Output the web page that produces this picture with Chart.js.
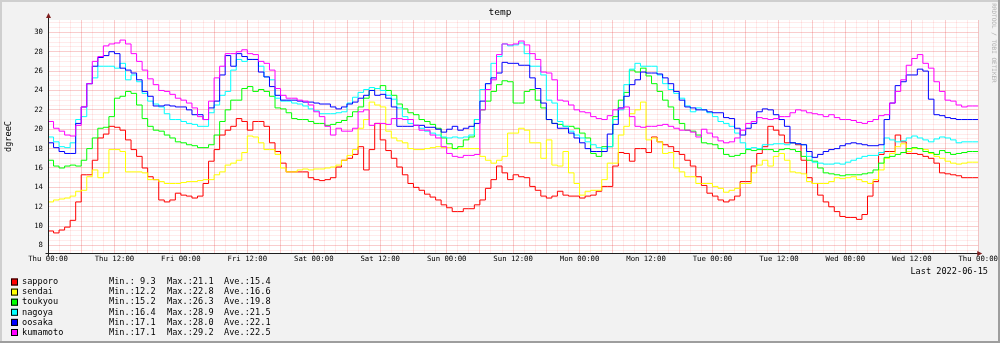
<!DOCTYPE html>
<html>
<head>
<meta charset="utf-8">
<script src="https://cdn.jsdelivr.net/npm/chart.js@4/dist/chart.umd.min.js"></script>
<style>
  html, body { margin: 0; padding: 0; background: #f2f2f2; }
  canvas { display: block; }
</style>
</head>
<body>
<canvas id="chTemp" width="1000" height="343"></canvas>
<script>
// hourly temperatures, Thu 00:00 .. Wed 23:00
var stations = ['sapporo', 'sendai', 'toukyou', 'nagoya', 'oosaka', 'kumamoto'];
var colors = ['#ff0000', '#ffff00', '#00ff00', '#00ffff', '#0000ff', '#ff00ff'];
var dayNames = ['Thu', 'Fri', 'Sat', 'Sun', 'Mon', 'Tue', 'Wed', 'Thu'];
var minVals = ['9.3', '12.2', '15.2', '16.4', '17.1', '17.1'];
var maxVals = ['21.1', '22.8', '26.3', '28.9', '28.0', '29.2'];
var aveVals = ['15.4', '16.6', '19.8', '21.5', '22.1', '22.5'];

var sapporo = [
  9.6, 9.5, 9.3, 9.6, 9.9, 10.6, 12.5, 15.3, 15.3, 16.8, 19.1, 19.5, 20.3, 20.2, 19.9, 18.9, 17.9, 17.2, 16.0, 15.1, 14.8, 12.7, 12.5, 12.7,
  13.4, 13.2, 13.1, 12.9, 13.1, 14.4, 16.7, 17.9, 19.4, 19.9, 20.3, 21.1, 20.8, 19.9, 20.8, 20.8, 20.3, 18.6, 17.7, 16.5, 15.6, 15.6, 15.6, 15.6,
  15.0, 14.8, 14.7, 14.8, 15.0, 16.1, 16.8, 17.0, 17.4, 18.2, 15.8, 17.9, 20.6, 18.9, 17.8, 17.0, 16.1, 15.3, 14.4, 14.0, 13.7, 13.3, 13.0, 12.7,
  12.2, 11.9, 11.5, 11.5, 11.8, 11.8, 12.2, 12.7, 13.9, 14.8, 16.2, 15.5, 14.8, 15.3, 15.1, 15.0, 14.1, 13.7, 13.1, 12.9, 13.1, 13.6, 13.2, 13.1,
  13.1, 12.9, 13.1, 13.2, 13.6, 14.1, 14.1, 16.2, 17.6, 17.5, 16.7, 18.0, 18.0, 17.6, 19.2, 18.7, 18.4, 18.2, 17.7, 17.4, 16.8, 16.2, 15.1, 14.2,
  13.4, 13.1, 12.7, 12.5, 12.7, 13.1, 14.6, 14.6, 16.2, 17.5, 18.2, 20.3, 19.9, 19.4, 18.6, 18.6, 18.4, 16.8, 15.0, 14.4, 13.2, 12.5, 12.0, 11.5,
  11.0, 10.9, 10.9, 10.7, 11.2, 13.1, 14.6, 17.4, 17.7, 17.7, 19.4, 18.7, 17.5, 17.5, 17.4, 17.2, 17.0, 16.5, 15.5, 15.4, 15.3, 15.2, 15.0, 15.0
];
var sendai = [
  12.3, 12.5, 12.7, 12.8, 12.9, 13.1, 13.6, 13.7, 15.1, 15.8, 15.0, 15.5, 17.9, 17.9, 17.7, 15.6, 15.6, 15.6, 15.5, 14.8, 14.8, 14.6, 14.4, 14.4,
  14.4, 14.5, 14.6, 14.6, 14.7, 14.8, 14.8, 15.3, 15.6, 16.3, 16.5, 16.8, 17.6, 19.3, 19.2, 18.6, 17.9, 17.9, 17.4, 16.0, 15.6, 15.6, 15.8, 15.9,
  15.8, 15.9, 15.9, 16.0, 16.1, 16.3, 16.8, 17.3, 17.9, 20.1, 21.0, 22.8, 22.5, 22.3, 19.8, 19.1, 18.8, 18.6, 18.0, 17.9, 17.9, 18.0, 18.1, 18.2,
  18.1, 18.1, 18.0, 18.0, 18.0, 18.0, 18.0, 17.2, 16.8, 16.5, 16.8, 17.2, 19.6, 19.6, 20.1, 19.9, 18.6, 18.6, 17.0, 18.9, 16.3, 16.2, 17.7, 15.5,
  14.4, 13.2, 13.6, 13.7, 13.7, 14.8, 16.5, 16.5, 19.4, 20.3, 21.6, 22.0, 22.8, 18.9, 19.1, 18.7, 17.5, 17.6, 16.0, 15.6, 15.1, 15.1, 14.4, 14.4,
  14.4, 14.1, 13.9, 13.5, 13.7, 13.9, 14.4, 14.4, 15.5, 16.3, 16.8, 16.2, 17.2, 17.5, 16.8, 15.6, 15.5, 15.4, 14.6, 14.4, 14.4, 14.4, 14.6, 15.0,
  14.9, 15.0, 15.1, 14.8, 14.6, 14.4, 14.8, 15.8, 17.0, 17.5, 18.2, 18.5, 17.7, 18.0, 18.0, 17.9, 17.5, 17.2, 17.0, 16.7, 16.5, 16.4, 16.5, 16.6
];
var toukyou = [
  16.8, 16.8, 16.2, 16.0, 16.2, 16.3, 16.2, 16.8, 18.0, 19.1, 20.1, 20.2, 21.3, 23.2, 23.4, 23.9, 23.7, 22.5, 21.1, 20.3, 19.9, 19.8, 19.4, 19.1,
  18.7, 18.6, 18.4, 18.3, 18.1, 18.1, 18.4, 19.4, 20.8, 22.0, 23.0, 23.0, 24.2, 24.4, 23.9, 24.1, 23.9, 23.4, 22.2, 22.1, 21.7, 21.1, 21.0, 21.0,
  20.8, 20.6, 20.6, 20.4, 20.5, 20.7, 20.9, 21.3, 21.8, 22.3, 23.2, 24.0, 24.2, 24.5, 24.0, 23.5, 22.6, 22.1, 21.7, 21.5, 21.0, 20.8, 20.5, 20.1,
  19.1, 18.5, 18.0, 18.2, 18.9, 19.2, 21.0, 22.0, 22.9, 23.9, 24.6, 25.0, 24.9, 22.7, 22.7, 23.9, 24.1, 23.0, 22.2, 21.0, 20.6, 20.5, 20.3, 20.3,
  20.1, 19.6, 19.1, 17.5, 17.2, 18.2, 18.2, 21.3, 23.0, 23.8, 26.1, 25.9, 26.3, 25.5, 24.7, 23.9, 23.0, 22.3, 21.0, 20.6, 19.9, 19.8, 19.4, 18.6,
  18.5, 18.4, 18.0, 17.4, 17.2, 17.3, 17.5, 17.9, 17.8, 17.9, 17.9, 17.9, 17.7, 17.9, 18.0, 17.9, 17.7, 17.2, 16.8, 16.7, 16.0, 15.5, 15.4, 15.3,
  15.2, 15.3, 15.3, 15.3, 15.4, 15.5, 15.8, 16.5, 17.1, 17.2, 17.4, 17.6, 18.0, 18.1, 18.0, 17.7, 17.6, 17.4, 17.8, 17.6, 17.4, 17.5, 17.6, 17.7
];
var nagoya = [
  19.8, 19.2, 18.7, 18.2, 18.1, 18.6, 21.0, 21.3, 24.7, 25.3, 26.5, 26.5, 26.5, 26.3, 26.8, 25.1, 25.6, 24.9, 23.7, 22.9, 22.6, 22.3, 21.6, 21.0,
  21.0, 20.8, 20.6, 20.5, 20.3, 20.3, 21.7, 22.5, 23.5, 23.9, 26.1, 27.2, 27.0, 27.2, 27.2, 26.5, 25.4, 25.1, 23.2, 22.9, 22.9, 22.7, 22.6, 22.4,
  22.1, 21.9, 21.6, 21.6, 21.6, 21.7, 21.8, 22.7, 23.3, 23.8, 24.1, 24.3, 24.2, 24.0, 23.5, 23.1, 22.2, 21.3, 20.6, 20.4, 20.1, 19.8, 19.6, 19.4,
  19.2, 19.1, 19.2, 19.1, 19.2, 19.4, 21.0, 24.1, 24.7, 26.8, 27.5, 28.8, 28.6, 28.7, 28.9, 27.8, 26.5, 26.5, 25.6, 23.0, 22.7, 20.8, 20.3, 19.8,
  19.4, 19.1, 18.7, 18.4, 18.1, 18.0, 18.2, 21.0, 22.0, 24.6, 26.2, 26.8, 26.5, 26.5, 26.5, 25.6, 24.7, 24.1, 23.7, 23.2, 22.4, 21.8, 22.2, 22.0,
  21.7, 21.3, 20.8, 20.6, 20.3, 19.6, 18.6, 18.0, 18.1, 18.0, 18.4, 18.4, 18.5, 18.5, 18.4, 18.6, 18.5, 18.4, 17.2, 16.6, 16.5, 16.4, 16.4, 16.5,
  16.4, 16.6, 16.8, 17.0, 17.2, 17.3, 17.3, 17.6, 19.1, 18.9, 18.7, 18.8, 19.1, 19.3, 19.1, 18.9, 18.7, 19.0, 19.2, 19.1, 18.9, 18.6, 18.7, 18.7
];
var oosaka = [
  19.1, 18.6, 18.1, 17.7, 17.5, 17.5, 20.6, 22.3, 24.7, 26.5, 27.4, 27.6, 28.0, 27.8, 26.3, 26.1, 25.8, 25.1, 23.9, 23.4, 22.4, 22.4, 22.5, 22.4,
  22.3, 22.3, 22.0, 21.5, 21.5, 21.0, 22.2, 22.9, 25.6, 27.6, 26.5, 27.8, 27.5, 27.2, 27.2, 25.9, 25.4, 24.4, 23.5, 23.0, 23.0, 23.0, 22.9, 22.8,
  22.8, 22.7, 22.6, 22.6, 22.3, 22.1, 22.3, 22.6, 22.8, 23.2, 23.5, 24.0, 23.5, 23.6, 23.2, 22.3, 20.3, 20.3, 20.3, 20.4, 20.4, 20.2, 20.2, 20.0,
  19.7, 20.0, 20.3, 19.9, 20.1, 20.3, 20.6, 22.9, 24.7, 25.3, 25.8, 26.9, 26.8, 26.8, 26.6, 26.6, 25.3, 24.2, 22.7, 21.0, 20.6, 20.1, 20.1, 19.6,
  19.1, 18.6, 18.0, 17.7, 17.7, 17.7, 19.5, 20.5, 22.2, 23.4, 24.6, 25.1, 25.9, 25.8, 25.8, 25.7, 25.3, 24.7, 23.9, 23.0, 22.3, 22.2, 22.0, 22.0,
  21.8, 21.7, 21.7, 21.2, 21.1, 20.1, 19.4, 20.1, 20.6, 21.8, 22.1, 22.0, 21.5, 21.0, 20.3, 18.6, 18.5, 18.4, 17.7, 17.1, 17.4, 17.7, 17.9, 18.0,
  18.3, 18.5, 18.6, 18.5, 18.4, 18.3, 18.3, 18.4, 21.0, 22.7, 24.5, 24.9, 25.6, 25.6, 26.2, 26.0, 23.1, 21.5, 21.4, 21.2, 21.1, 21.0, 21.0, 21.0
];
var kumamoto = [
  21.0, 20.8, 20.1, 19.8, 19.4, 19.3, 20.4, 22.3, 24.7, 27.0, 27.5, 28.6, 28.8, 28.9, 29.2, 28.8, 27.8, 27.0, 26.1, 25.2, 24.6, 24.0, 23.9, 23.6,
  23.2, 23.0, 22.7, 22.2, 21.3, 21.0, 22.9, 25.3, 26.5, 27.8, 27.8, 28.0, 28.2, 27.8, 27.7, 27.0, 26.8, 26.1, 24.2, 23.5, 23.2, 23.2, 23.0, 22.9,
  22.5, 21.8, 21.3, 20.3, 19.4, 20.1, 19.8, 19.8, 20.1, 21.8, 22.0, 20.4, 20.6, 20.6, 20.5, 21.1, 21.1, 21.0, 21.0, 20.4, 19.9, 19.9, 19.4, 19.1,
  18.2, 17.5, 17.2, 17.1, 17.3, 17.3, 17.4, 22.0, 24.1, 25.1, 27.7, 28.8, 28.7, 28.8, 29.1, 28.7, 27.8, 27.2, 25.9, 25.8, 25.1, 23.0, 22.9, 22.5,
  22.0, 21.8, 21.7, 21.3, 21.1, 21.0, 21.4, 22.0, 22.1, 22.3, 21.3, 20.3, 20.2, 20.3, 20.3, 20.4, 20.5, 20.3, 20.1, 19.9, 19.9, 19.7, 19.2, 20.0,
  19.6, 19.2, 18.8, 18.6, 18.7, 19.1, 19.9, 20.6, 20.8, 21.2, 21.1, 21.0, 21.1, 21.3, 21.3, 21.7, 22.0, 21.9, 21.7, 21.6, 21.5, 21.3, 21.5, 21.2,
  21.0, 21.0, 20.9, 20.7, 20.6, 20.8, 21.0, 21.4, 21.5, 22.7, 23.9, 25.1, 26.6, 27.3, 27.7, 26.8, 26.3, 24.9, 23.9, 23.0, 22.9, 22.5, 22.3, 22.4
];
var series = [sapporo, sendai, toukyou, nagoya, oosaka, kumamoto];

var fontMono = '"DejaVu Sans Mono", monospace';
var gridMinor = 'rgba(255, 30, 30, 0.09)';
var gridMajor = 'rgba(230, 60, 60, 0.26)';

// one point per hour, last value held until the right edge
function toPoints(vals) {
  var pts = vals.map(function (v, i) { return { x: i, y: v }; });
  pts.push({ x: vals.length, y: vals[vals.length - 1] });
  return pts;
}

function isMultiple(v, step) {
  return Math.abs(v / step - Math.round(v / step)) < 1e-6;
}

var rrdLook = {
  id: 'rrdLook',
  beforeDraw: function (chart) {
    var c = chart.ctx, a = chart.chartArea, w = chart.width, h = chart.height;
    c.save();
    c.fillStyle = '#f2f2f2';
    c.fillRect(0, 0, w, h);
    c.fillStyle = '#cfcfcf';
    c.fillRect(0, 0, w, 2);
    c.fillRect(0, 0, 2, h);
    c.fillStyle = '#9e9e9e';
    c.fillRect(0, h - 2, w, 2);
    c.fillRect(w - 2, 0, 2, h);
    c.fillStyle = '#ffffff';
    c.fillRect(a.left, a.top, a.right - a.left, a.bottom - a.top);
    c.restore();
  },
  afterDraw: function (chart) {
    var c = chart.ctx, a = chart.chartArea;
    var x0 = Math.round(a.left) + 0.5, y0 = Math.round(a.bottom) + 0.5;
    c.save();
    // axes
    c.strokeStyle = '#1f1f1f';
    c.lineWidth = 1;
    c.beginPath();
    c.moveTo(x0, y0 + 3);
    c.lineTo(x0, a.top - 4);
    c.moveTo(x0 - 3, y0);
    c.lineTo(a.right + 2, y0);
    c.stroke();
    // arrows
    c.fillStyle = '#801f1f';
    c.beginPath();
    c.moveTo(x0, a.top - 7);
    c.lineTo(x0 - 2.5, a.top - 2);
    c.lineTo(x0 + 2.5, a.top - 2);
    c.closePath();
    c.fill();
    c.beginPath();
    c.moveTo(a.right + 4, y0);
    c.lineTo(a.right - 1, y0 - 2.5);
    c.lineTo(a.right - 1, y0 + 2.5);
    c.closePath();
    c.fill();

    // title
    c.fillStyle = '#000';
    c.textAlign = 'center';
    c.textBaseline = 'middle';
    c.font = '9.5px ' + fontMono;
    c.fillText('temp', chart.width / 2, 13);

    // watermark
    c.save();
    c.translate(993.5, 43);
    c.rotate(Math.PI / 2);
    c.font = '6px ' + fontMono;
    c.fillStyle = '#b0b0b0';
    c.fillText('RRDTOOL / TOBI OETIKER', 0, 0);
    c.restore();

    // last update
    c.font = '8.6px ' + fontMono;
    c.textAlign = 'right';
    c.fillText('Last 2022-06-15', 988, 272);

    // legend
    c.textAlign = 'left';
    for (var i = 0; i < stations.length; i++) {
      var y = 282 + i * 10.1;
      c.fillStyle = colors[i];
      c.fillRect(11, y - 3.5, 7, 7);
      c.strokeStyle = '#000';
      c.strokeRect(11.5, y - 3, 6, 6);
      c.fillStyle = '#000';
      c.fillText(stations[i], 22, y);
      c.fillText('Min.:' + minVals[i].padStart(4), 109, y);
      c.fillText('Max.:' + maxVals[i].padStart(4), 167, y);
      c.fillText('Ave.:' + aveVals[i].padStart(4), 224, y);
    }
    c.restore();
  }
};

var datasets = series.map(function (vals, i) {
  return {
    label: stations[i],
    data: toPoints(vals),
    borderColor: colors[i],
    backgroundColor: colors[i],
    borderWidth: 1,
    pointRadius: 0,
    fill: false,
    stepped: 'after',
    order: series.length - i
  };
});

var chTemp = document.getElementById('chTemp');
if (chTemp) {
  new Chart(chTemp, {
    type: 'line',
    data: { datasets: datasets },
    options: {
      responsive: false,
      animation: false,
      layout: { padding: { left: 0, right: 20, top: 20, bottom: 78 } },
      plugins: {
        legend: { display: false },
        tooltip: { enabled: false }
      },
      scales: {
        x: {
          type: 'linear',
          min: 0,
          max: 168,
          afterBuildTicks: function (axis) {
            var t = [];
            for (var h = 0; h <= 168; h += 2) t.push({ value: h });
            axis.ticks = t;
          },
          afterFit: function (axis) { axis.height = 12; },
          border: { display: false },
          grid: {
            drawTicks: false,
            color: function (ctx) {
              return ctx.tick && isMultiple(ctx.tick.value, 6) ? gridMajor : gridMinor;
            }
          },
          ticks: {
            autoSkip: false,
            maxRotation: 0,
            padding: 2,
            color: '#000',
            font: { family: fontMono, size: 7.3 },
            callback: function (v) {
              if (!isMultiple(v, 12)) return '';
              return dayNames[Math.floor(v / 24)] + (isMultiple(v, 24) ? ' 00:00' : ' 12:00');
            }
          }
        },
        y: {
          min: 7.23,
          max: 31.27,
          afterBuildTicks: function (axis) {
            var t = [];
            for (var v = 7.5; v <= 31; v += 0.5) t.push({ value: v });
            axis.ticks = t;
          },
          afterFit: function (axis) { axis.width = 48; },
          border: { display: false },
          grid: {
            drawTicks: false,
            color: function (ctx) {
              return ctx.tick && isMultiple(ctx.tick.value, 2) ? gridMajor : gridMinor;
            }
          },
          title: {
            display: true,
            text: 'dgreeC',
            color: '#000',
            font: { family: fontMono, size: 8.6 },
            padding: { top: 4, bottom: 0 }
          },
          ticks: {
            autoSkip: false,
            padding: 5,
            color: '#000',
            font: { family: fontMono, size: 7.3 },
            callback: function (v) { return isMultiple(v, 2) ? String(v) : ''; }
          }
        }
      }
    },
    plugins: [rrdLook]
  });
}
</script>
</body>
</html>
